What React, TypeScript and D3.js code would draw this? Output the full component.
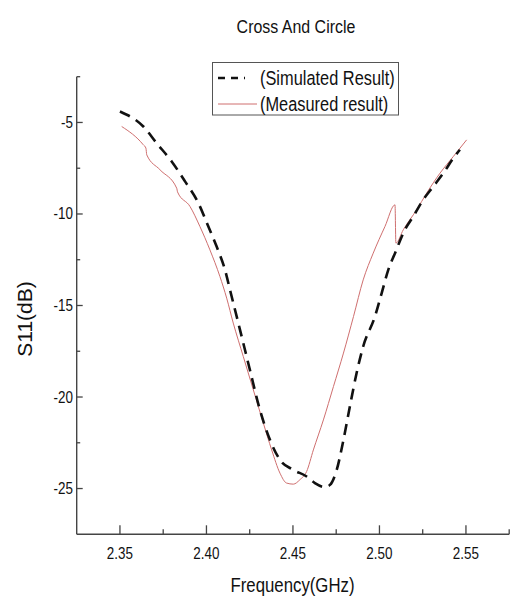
import * as d3 from "d3";

// Frequency axis (GHz) and S11 values (dB)
const simFreq = [
  2.35, 2.3635, 2.3712, 2.3799, 2.3876, 2.3953, 2.4011, 2.4059, 2.4107, 2.4136,
  2.4194, 2.4251, 2.4309, 2.4367, 2.4425, 2.4502, 2.4579, 2.4627, 2.4685, 2.4714,
  2.4753, 2.4792, 2.4829, 2.4868, 2.4906, 2.4974, 2.5013, 2.5051, 2.509, 2.5147,
  2.5195, 2.5253, 2.5311, 2.5369, 2.5427, 2.5465,
];
const simS11 = [
  -4.4, -5.22, -6.13, -7.13, -8.22, -9.4, -10.68, -11.78, -13.05, -14.14,
  -16.33, -18.51, -20.7, -22.34, -23.43, -23.98, -24.34, -24.7, -24.92, -24.8,
  -23.98, -22.34, -20.52, -18.69, -17.24, -15.6, -14.32, -13.05, -12.14, -10.86,
  -10.14, -9.22, -8.5, -7.77, -6.95, -6.49,
];

const measFreq = [
  2.351, 2.3635, 2.365, 2.3655, 2.3731, 2.3828, 2.3833, 2.3905, 2.3962, 2.402,
  2.4078, 2.4117, 2.4155, 2.4213, 2.4271, 2.4329, 2.4377, 2.4425, 2.4463, 2.4502,
  2.454, 2.4579, 2.4618, 2.4676, 2.4734, 2.4792, 2.485, 2.4906, 2.4964, 2.5032,
  2.509, 2.5095, 2.5138, 2.5215, 2.5273, 2.535, 2.5427, 2.5504,
];
const measS11 = [
  -5.22, -6.22, -6.4, -6.77, -7.58, -8.59, -8.8, -9.59, -10.68, -11.96,
  -13.42, -14.6, -15.96, -17.79, -19.61, -21.43, -22.89, -24.16, -24.7, -24.76,
  -24.52, -24.07, -22.89, -21.25, -19.43, -17.6, -15.6, -13.6, -12.14, -10.68,
  -9.5, -11.59, -10.86, -9.77, -8.86, -7.77, -6.86, -5.95,
];

const xTicks = [2.35, 2.4, 2.45, 2.5, 2.55];
const xTickLabels = ["2.35", "2.40", "2.45", "2.50", "2.55"];
const xMinor = [2.375, 2.425, 2.475, 2.525, 2.575];
const yTicks = [-5, -10, -15, -20, -25];
const yMinor = [-2.5, -7.5, -12.5, -17.5, -22.5];

const legendLabels = ["(Simulated Result)", "(Measured result)"];

const W = 511;
const H = 597;
const SQ = 0.84; // the source text looks horizontally condensed
const FONT = "'Liberation Sans', Arial, sans-serif";
const RED = "#cf6f6f";

function SText(props: any) {
  const { x, y, size, anchor = "start", rotate = false, squash = SQ, children } = props;
  return (
    <text
      transform={`translate(${x},${y}) scale(${squash},1)${rotate ? " rotate(-90)" : ""}`}
      fontSize={size}
      fontFamily={FONT}
      textAnchor={anchor}
      fill="#111"
    >
      {children}
    </text>
  );
}

export default function App() {
  const x = d3.scaleLinear().domain([2.325, 2.575]).range([76.7, 509.2]);
  const y = d3.scaleLinear().domain([-27.5, -2.5]).range([534.3, 76.7]);

  const line = d3
    .line<[number, number]>()
    .x((d) => x(d[0]))
    .y((d) => y(d[1]))
    .curve(d3.curveMonotoneX);

  const simPath = line(simFreq.map((f, i) => [f, simS11[i]]) as [number, number][]);
  const measPath = line(measFreq.map((f, i) => [f, measS11[i]]) as [number, number][]);

  const x0 = x.range()[0];
  const y0 = y.range()[0];

  return (
    <svg
      width={W}
      height={H}
      style={{ position: "absolute", left: 0, top: 0, background: "#fff" }}
    >
      <rect width={W} height={H} fill="#fff" />

      {/* title */}
      <SText x={296} y={33} size={19} anchor="middle">
        Cross And Circle
      </SText>

      {/* curves */}
      <path d={measPath || ""} fill="none" stroke={RED} strokeWidth={1} />
      <path
        d={simPath || ""}
        fill="none"
        stroke="#111"
        strokeWidth={2.6}
        strokeDasharray="11,7"
      />

      {/* y axis */}
      <line x1={x0} x2={x0} y1={y.range()[1]} y2={y0} stroke="#444" strokeWidth={1.4} />
      {yTicks.map((t) => (
        <g key={t}>
          <line x1={x0} x2={x0 + 6} y1={y(t)} y2={y(t)} stroke="#444" strokeWidth={1.3} />
          <SText x={73} y={y(t) + 5.5} size={16} anchor="end">
            {String(t)}
          </SText>
        </g>
      ))}
      {yMinor.map((t) => (
        <line key={t} x1={x0} x2={x0 + 3.5} y1={y(t)} y2={y(t)} stroke="#444" strokeWidth={1.3} />
      ))}

      {/* x axis */}
      <line x1={x0} x2={x.range()[1]} y1={y0} y2={y0} stroke="#444" strokeWidth={1.4} />
      {xTicks.map((t, i) => (
        <g key={t}>
          <line x1={x(t)} x2={x(t)} y1={y0} y2={y0 - 9} stroke="#444" strokeWidth={1.3} />
          <SText x={x(t)} y={558.5} size={16} anchor="middle">
            {xTickLabels[i]}
          </SText>
        </g>
      ))}
      {xMinor.map((t) => (
        <line key={t} x1={x(t)} x2={x(t)} y1={y0} y2={y0 - 5} stroke="#444" strokeWidth={1.3} />
      ))}

      {/* axis titles */}
      <SText x={292.5} y={591.5} size={20} anchor="middle">
        Frequency(GHz)
      </SText>
      <SText x={32} y={319} size={21} anchor="middle" rotate squash={1}>
        S11(dB)
      </SText>

      {/* legend */}
      <rect x={212.5} y={62.5} width={186} height={52.5} fill="#fff" stroke="#555" strokeWidth={1} />
      <line x1={218} x2={245} y1={78} y2={78} stroke="#111" strokeWidth={2.4} strokeDasharray="7,6" />
      <line x1={218} x2={257} y1={104} y2={104} stroke={RED} strokeWidth={1} />
      <SText x={260} y={85} size={19.5}>
        {legendLabels[0]}
      </SText>
      <SText x={260} y={110.5} size={19.5}>
        {legendLabels[1]}
      </SText>
    </svg>
  );
}
